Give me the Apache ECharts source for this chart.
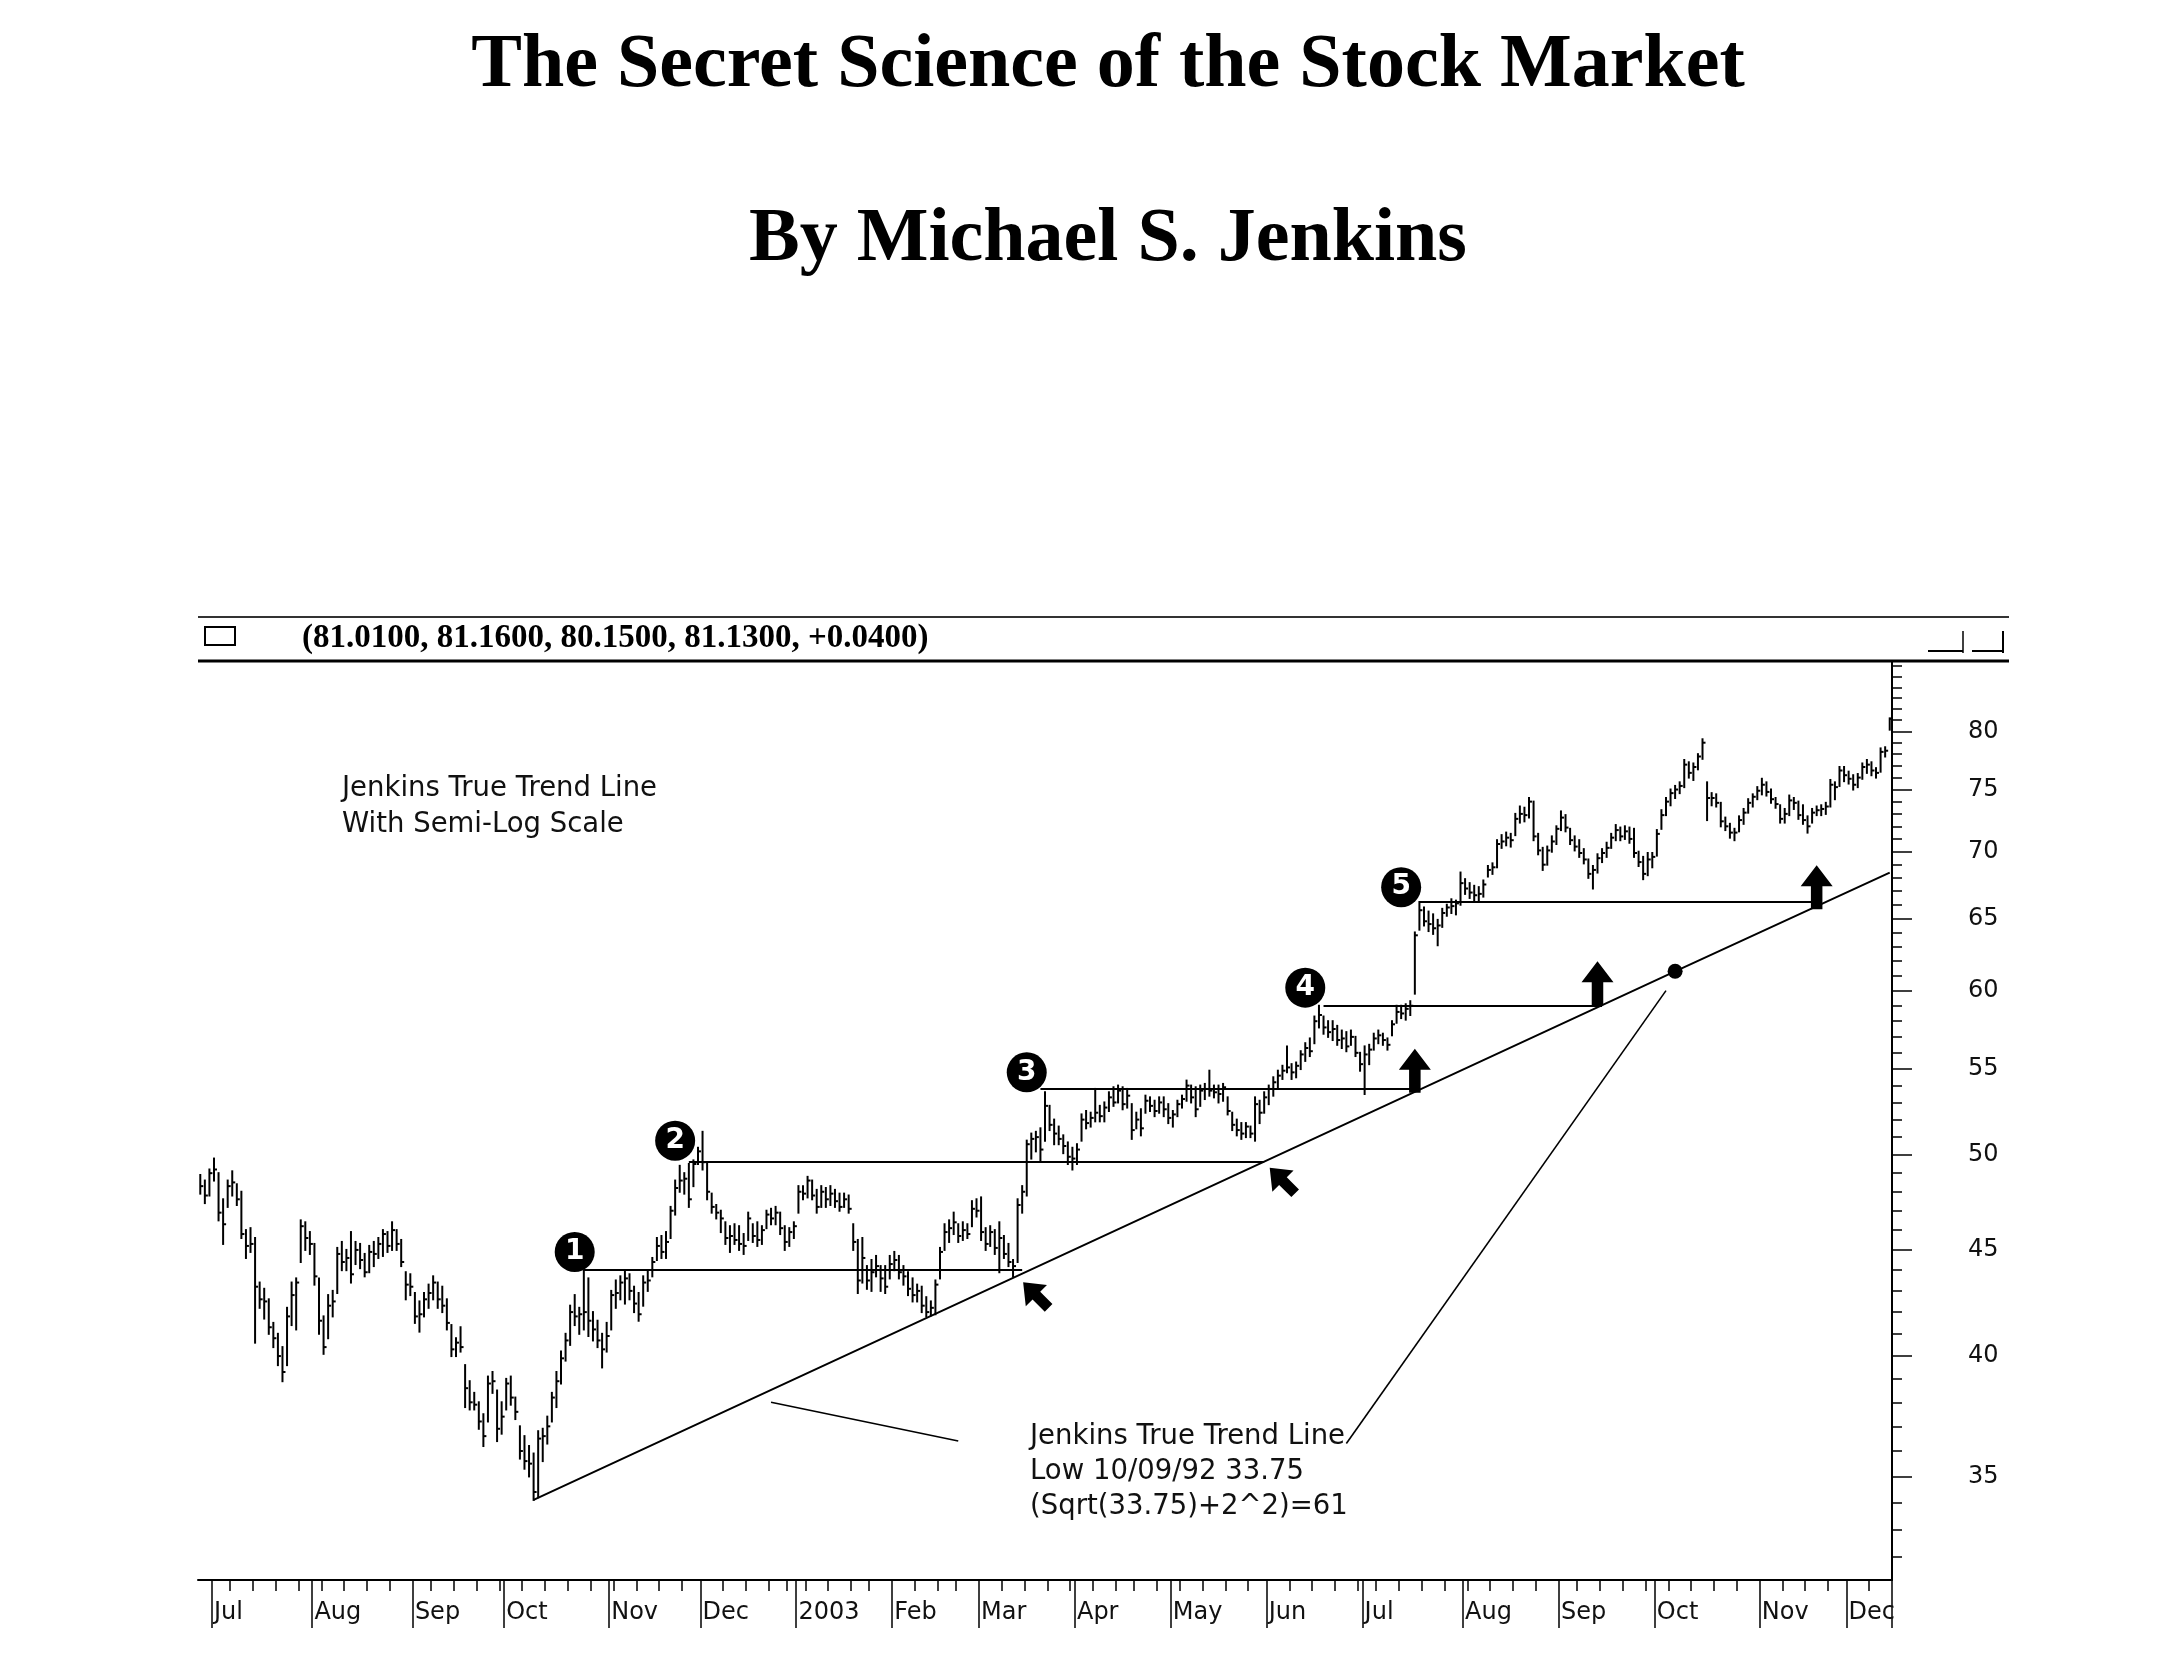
<!DOCTYPE html>
<html><head><meta charset="utf-8">
<script src="https://cdn.jsdelivr.net/npm/echarts@6/dist/echarts.min.js"></script>
<style>html,body{margin:0;padding:0;background:#fff}#c{width:2173px;height:1665px}</style>
</head><body><div id="c"></div>
<script>
// ---------- data ----------
const startDate = '2002-06-26';
const endDate = '2003-12-12';
const holidays = ['2002-07-04','2002-09-02','2002-11-28','2002-12-25','2003-01-01','2003-01-20',
  '2003-02-17','2003-04-18','2003-05-26','2003-07-04','2003-09-01','2003-11-27'];
const monthLabels = ['Jul','Aug','Sep','Oct','Nov','Dec','2003','Feb','Mar','Apr','May','Jun',
  'Jul','Aug','Sep','Oct','Nov','Dec'];

const highs = [
48.9,48.6,49.2,49.8,49.0,47.6,48.6,49.1,48.4,48.0,
46.0,46.1,45.6,43.4,43.1,42.6,41.5,41.0,40.4,42.2,
43.4,43.6,46.5,46.4,45.9,45.3,43.6,41.8,42.8,43.0,
45.1,45.4,45.0,45.9,45.4,45.3,44.8,45.2,45.4,45.6,
46.0,45.9,46.4,46.0,45.5,43.9,43.8,42.9,42.5,42.9,
43.3,43.7,43.4,43.2,42.6,41.4,40.8,41.3,39.6,38.9,
38.4,38.0,37.5,39.1,39.3,38.5,38.0,39.0,39.1,38.2,
37.0,36.6,36.2,35.9,36.8,36.9,37.4,38.4,39.3,40.2,
41.0,42.3,42.8,42.2,44.0,43.6,42.0,41.6,41.0,41.5,
43.0,43.5,43.7,44.0,43.8,43.2,42.9,43.7,44.0,44.6,
45.6,45.7,45.9,47.2,48.6,49.4,49.0,49.5,49.7,50.4,
51.3,49.6,47.9,47.3,47.0,46.4,46.2,46.3,46.2,45.8,
46.9,46.3,46.4,46.2,47.0,47.1,47.2,46.9,46.2,46.1,
46.4,48.3,48.3,48.8,48.6,48.1,48.3,48.2,48.3,48.1,
47.9,47.9,47.8,46.3,45.5,45.6,44.2,44.5,44.7,44.2,
44.2,44.7,44.9,44.7,44.2,43.9,43.6,43.3,43.2,42.7,
42.5,43.5,45.1,46.3,46.5,46.9,46.3,46.4,46.3,47.5,
47.6,47.7,46.1,46.2,46.0,46.4,45.7,45.3,44.5,47.6,
48.3,50.8,51.2,51.3,51.5,53.6,52.8,52.0,51.6,51.1,
50.7,50.4,50.6,52.3,52.5,52.4,53.8,52.8,53.0,53.6,
53.9,54.0,53.9,53.8,52.9,52.4,52.6,53.4,53.3,53.1,
53.3,53.3,52.9,52.5,53.1,53.4,54.3,54.0,53.9,54.0,
54.1,54.9,54.0,54.0,54.1,53.3,52.4,52.0,51.8,51.8,
51.6,53.3,53.1,53.6,54.0,54.5,54.9,55.2,56.4,55.3,
55.4,56.1,56.6,56.9,58.3,59.0,58.3,58.0,58.0,57.7,
57.4,57.3,57.4,57.0,56.0,56.4,56.5,57.2,57.4,57.2,
56.9,58.0,59.0,59.0,59.1,59.3,64.0,66.2,65.8,65.5,
65.3,64.9,65.7,66.0,66.4,66.3,68.4,67.9,67.6,67.4,
67.3,67.8,68.9,69.1,70.9,71.3,71.5,71.4,73.0,73.6,
73.5,74.3,74.0,71.4,70.3,70.4,71.2,72.0,73.2,72.9,
71.8,71.2,70.9,70.2,69.4,68.9,69.8,70.2,70.7,71.4,
72.1,71.9,72.0,71.9,71.8,70.0,69.6,69.9,69.9,71.7,
73.3,74.3,75.0,75.3,75.6,77.5,77.3,77.2,78.0,79.3,
75.6,74.7,74.6,73.9,72.7,72.2,71.8,72.8,73.4,74.2,
74.6,75.2,75.9,75.6,75.0,74.3,73.7,73.4,74.5,74.3,
74.0,73.7,72.8,73.4,73.6,73.7,73.9,75.8,75.6,76.9,
76.9,76.5,76.2,76.3,77.2,77.5,77.3,76.8,78.5,78.6,
81.16];

const lows = [
47.9,47.4,47.8,48.6,46.5,45.3,47.2,47.8,47.3,45.6,
44.6,44.9,40.6,42.2,41.7,41.0,40.4,39.6,38.9,39.6,
41.4,41.2,44.4,45.0,44.8,43.3,41.0,40.1,40.8,41.8,
42.9,44.0,44.0,43.4,44.3,44.1,43.7,43.9,44.2,44.6,
44.7,44.9,45.0,45.0,44.2,42.6,42.8,41.5,41.1,41.8,
42.2,42.6,42.2,42.0,41.2,40.0,40.0,40.2,37.8,37.7,
37.7,36.9,36.2,37.2,38.4,36.4,36.7,37.7,37.9,37.3,
35.7,35.3,35.0,34.1,34.2,35.6,36.3,37.2,37.8,38.8,
39.8,40.5,41.4,41.0,41.2,40.9,40.7,40.4,39.5,40.2,
41.2,42.2,42.6,42.4,42.6,42.0,41.6,42.3,43.0,43.7,
44.5,44.6,44.6,45.6,46.8,48.0,47.9,47.2,48.3,49.5,
49.2,47.6,46.9,46.6,45.9,45.3,44.9,45.3,45.0,44.8,
45.5,45.4,45.2,45.3,46.1,46.3,46.3,45.8,45.0,45.2,
45.6,46.9,47.6,47.7,47.6,46.9,47.2,47.2,47.3,47.2,
47.0,47.2,46.9,45.0,42.9,43.4,43.1,43.0,43.7,43.0,
42.9,43.6,44.0,43.6,43.3,42.8,42.5,42.5,42.0,41.8,
41.85,41.9,43.6,45.0,45.4,45.8,45.4,45.5,45.6,46.2,
46.7,45.5,45.0,45.2,44.8,43.9,44.6,44.2,43.7,44.4,
46.9,47.8,49.8,50.2,49.7,50.8,51.4,50.6,50.6,50.1,
49.5,49.2,49.5,50.8,51.5,51.6,51.9,51.9,51.9,52.5,
52.8,53.0,52.6,52.7,50.9,51.5,51.1,52.4,52.5,52.2,
52.4,52.2,51.8,51.6,52.2,52.7,53.1,53.0,52.2,52.8,
53.2,53.4,53.3,53.0,53.1,52.3,51.4,51.1,50.9,51.0,
51.0,50.8,51.8,52.4,52.9,53.4,53.8,54.4,54.8,54.4,
54.5,55.0,55.5,55.8,56.6,57.6,57.2,57.0,56.8,56.5,
56.3,56.1,56.5,55.8,54.9,53.5,55.3,56.2,56.6,56.5,
56.2,57.1,57.9,58.2,58.1,58.4,59.8,64.2,64.5,64.1,
63.9,63.1,64.4,65.2,65.4,65.3,66.0,66.8,66.5,66.3,
66.2,66.6,68.1,68.3,68.8,70.3,70.5,70.4,71.3,72.3,
72.4,72.7,70.9,69.8,68.6,69.0,70.0,70.6,71.7,71.6,
70.6,70.1,69.6,69.1,68.0,67.2,68.4,69.2,69.6,70.3,
70.9,70.9,71.0,70.7,69.6,68.9,67.9,68.2,68.8,69.7,
71.8,72.9,73.7,74.3,74.7,75.2,76.0,75.8,76.7,77.6,
72.5,73.7,73.6,72.0,71.7,71.1,70.9,71.6,72.2,73.1,
73.6,74.2,74.6,74.5,73.9,73.5,72.3,72.3,72.9,73.4,
72.6,72.2,71.5,72.3,72.9,72.9,73.0,73.6,74.2,75.3,
75.7,75.5,75.0,75.2,75.9,76.4,76.2,76.0,76.5,77.8,
80.15];

const closes = [
48.3,47.8,49.0,49.2,46.9,46.3,48.3,48.5,47.6,45.8,
45.2,45.3,43.2,42.6,42.5,41.3,40.8,40.0,39.3,41.8,
42.8,43.4,46.2,45.6,45.3,43.7,41.6,40.4,42.3,42.5,
44.8,44.4,44.6,43.8,45.0,44.5,43.9,44.9,44.8,45.3,
45.8,45.2,46.0,45.3,44.4,43.3,43.2,41.8,41.9,42.6,
42.9,43.4,42.6,42.3,41.5,40.3,40.6,40.4,38.6,38.0,
37.9,37.2,36.6,38.8,38.9,36.9,37.4,38.8,38.2,37.6,
36.0,35.6,35.5,34.4,36.5,36.6,37.0,38.2,38.9,39.9,
40.7,42.0,41.8,41.9,42.0,41.6,41.2,40.7,40.3,40.9,
42.8,42.9,43.4,43.6,43.0,42.4,41.9,43.4,43.5,44.4,
45.2,44.9,45.4,47.0,48.2,48.6,48.7,47.6,49.5,50.2,
49.6,48.0,47.2,46.9,46.6,45.6,45.7,45.5,45.3,45.2,
46.6,45.7,45.5,46.0,46.8,46.6,46.9,46.1,45.4,45.9,
46.2,48.0,47.9,48.6,47.8,47.2,48.0,47.6,47.9,47.5,
47.2,47.6,47.1,45.4,43.5,44.6,43.5,43.9,44.2,43.6,
43.2,44.3,44.5,43.9,43.7,43.1,42.8,43.0,42.3,42.0,
42.2,43.3,44.9,45.9,46.1,46.4,45.7,46.0,45.8,47.1,
47.0,45.9,45.3,45.9,45.1,45.6,44.8,44.4,44.2,47.3,
48.0,50.6,50.9,51.0,50.3,52.8,51.7,51.2,50.9,50.5,
49.9,49.8,50.3,52.0,51.8,52.1,52.4,52.2,52.7,53.3,
53.0,53.7,52.9,53.4,51.4,52.0,51.5,53.1,52.8,52.5,
53.0,52.6,52.1,52.3,52.9,53.2,54.0,53.3,52.6,53.7,
53.8,53.7,53.6,53.5,53.9,52.5,51.7,51.4,51.2,51.6,
51.2,52.9,52.4,53.3,53.8,54.2,54.6,54.9,55.1,54.8,
55.2,55.9,56.3,56.1,58.0,58.4,57.6,57.3,57.5,56.8,
56.9,56.4,57.0,56.0,55.3,55.9,56.2,56.9,57.1,56.8,
56.5,57.8,58.6,58.5,58.8,59.0,63.8,65.6,64.8,64.6,
64.3,64.5,65.4,65.8,65.9,66.1,67.6,67.2,66.9,66.7,
66.8,67.5,68.6,68.8,70.6,70.8,71.1,70.9,72.6,73.0,
72.9,74.0,71.2,70.1,69.0,70.1,70.8,71.8,72.7,71.9,
70.9,70.4,69.9,69.4,68.3,68.6,69.5,69.9,70.3,71.1,
71.7,71.2,71.6,71.0,69.9,69.2,68.3,69.4,69.6,71.4,
72.9,74.0,74.7,75.0,75.3,77.1,76.4,76.9,77.8,79.0,
74.3,74.3,73.9,72.4,72.0,71.5,71.5,72.5,73.1,73.9,
74.4,74.9,75.4,74.8,74.2,73.8,72.6,73.0,74.1,73.9,
72.9,72.5,72.0,73.1,73.3,73.4,73.6,75.4,75.2,76.6,
76.2,75.9,75.4,76.0,76.9,77.1,76.6,76.4,78.2,78.3,
81.13];

const priceTicks = [35,40,45,50,55,60,65,70,75,80];
const minorTicks = [32,33,34,36,37,38,39,41,42,43,44,46,47,48,49,51,52,53,54,56,57,58,59,
  61,62,63,64,66,67,68,69,71,72,73,74,76,77,78,79,81,82,83,84,85,86];

// annotations (bar index, price)
const trendLine = [[73, 34.1], [323, 61.3], [370, 68.4]];
const levelValues = [44.0, 49.6, 53.8, 59.0, 66.2];
const levelStart = [84, 107, 184, 246, 267];
const levelEnd = [180, 233, 266, 307, 353];
const circleLabels = ['1','2','3','4','5'];
const circleX = [82, 104, 181, 242, 263];
const circleY = [44.9, 50.8, 54.8, 60.2, 67.3];
const upArrowX = [266, 306, 354];
const upArrowY = [54.9, 60.5, 67.3];
const diagArrowX = [183, 237];
const diagArrowY = [42.8, 48.6];
const targetDot = [323, 61.3];
const leaderLines = [[[251, 36.3], [321, 60.0]], [[125, 38.0], [166, 36.4]]];
const headerText = '(81.0100, 81.1600, 80.1500, 81.1300, +0.0400)';

// ---------- build ----------
function buildTradingDays(start, end, skip) {
  const out = [];
  const d = new Date(start + 'T00:00:00Z');
  const e = new Date(end + 'T00:00:00Z');
  const skipSet = new Set(skip);
  while (d <= e) {
    const wd = d.getUTCDay();
    const s = d.toISOString().slice(0, 10);
    if (wd !== 0 && wd !== 6 && !skipSet.has(s)) out.push(s);
    d.setUTCDate(d.getUTCDate() + 1);
  }
  return out;
}
const dates = buildTradingDays(startDate, endDate, holidays);
const monthStart = {};
const weekStart = {};
let mCount = 0;
for (let i = 1; i < dates.length; i++) {
  if (dates[i].slice(5, 7) !== dates[i - 1].slice(5, 7)) { monthStart[i] = monthLabels[mCount++]; }
  const a = new Date(dates[i] + 'T00:00:00Z').getUTCDay();
  const b = new Date(dates[i - 1] + 'T00:00:00Z').getUTCDay();
  if (a <= b) weekStart[i] = true;
}
const barData = dates.map((d, i) => [i, highs[i], lows[i], closes[i]]);

const FONT = 'DejaVu Sans';
const chart = echarts.init(document.getElementById('c'), null, {renderer: 'canvas'});
chart.setOption({
  animation: false,
  backgroundColor: '#fff',
  grid: {left: 198, right: 281, top: 662, bottom: 85, containLabel: false, outerBoundsMode: 'none'},
  xAxis: [{
    type: 'category', data: dates, boundaryGap: true, position: 'bottom',
    axisLine: {show: true, onZero: false, lineStyle: {color: '#000', width: 2}},
    axisTick: {show: true, interval: (i) => !!weekStart[i], length: 11, lineStyle: {color: '#000', width: 1.5}},
    axisLabel: {show: false}, splitLine: {show: false}
  }, {
    type: 'category', data: dates, boundaryGap: true, position: 'bottom',
    axisLine: {show: false, onZero: false},
    axisTick: {show: true, interval: (i) => monthStart[i] !== undefined, length: 48, lineStyle: {color: '#000', width: 1.5}},
    axisLabel: {show: true, interval: (i) => monthStart[i] !== undefined,
      formatter: (v, i) => monthStart[i] || '', align: 'left', margin: 21,
      fontFamily: FONT, fontSize: 24, color: '#111'},
    splitLine: {show: false}
  }],
  yAxis: [{
    type: 'log', logBase: 10, min: 31.2, max: 86.4, position: 'right',
    axisLine: {show: true, lineStyle: {color: '#000', width: 2}},
    axisTick: {show: true, customValues: priceTicks, length: 20, lineStyle: {color: '#000', width: 1.5}},
    axisLabel: {show: true, customValues: priceTicks, margin: 76, fontFamily: FONT, fontSize: 24, color: '#111', align: 'left'},
    splitLine: {show: false}
  }, {
    type: 'log', logBase: 10, min: 31.2, max: 86.4, position: 'right',
    axisLine: {show: false},
    axisTick: {show: true, customValues: minorTicks, length: 10, lineStyle: {color: '#000', width: 1.5}},
    axisLabel: {show: false}, splitLine: {show: false}
  }],
  series: [{
    type: 'custom', name: 'bars', xAxisIndex: 0, yAxisIndex: 0, data: barData,
    encode: {x: 0, y: [1, 2, 3]}, z: 2,
    renderItem: function (params, api) {
      const x = api.value(0);
      const pH = api.coord([x, api.value(1)]);
      const pL = api.coord([x, api.value(2)]);
      const pC = api.coord([x, api.value(3)]);
      return {type: 'group', children: [
        {type: 'line', shape: {x1: pH[0], y1: pH[1] - 1, x2: pL[0], y2: pL[1] + 1}, style: {stroke: '#000', lineWidth: 2}},
        {type: 'line', shape: {x1: pC[0], y1: pC[1], x2: pC[0] + 3, y2: pC[1]}, style: {stroke: '#000', lineWidth: 2}}
      ]};
    }
  }, {
    type: 'line', name: 'trend', xAxisIndex: 0, yAxisIndex: 0, data: trendLine,
    symbol: 'none', lineStyle: {color: '#000', width: 2}, z: 3
  }, {
    type: 'lines', coordinateSystem: 'cartesian2d', xAxisIndex: 0, yAxisIndex: 0, z: 3,
    lineStyle: {color: '#000', width: 2, opacity: 1, curveness: 0},
    data: levelValues.map((v, k) => ({coords: [[levelStart[k], v], [levelEnd[k], v]]}))
  }, {
    type: 'lines', coordinateSystem: 'cartesian2d', xAxisIndex: 0, yAxisIndex: 0, z: 3,
    lineStyle: {color: '#000', width: 1.6, opacity: 1, curveness: 0},
    data: leaderLines.map(c => ({coords: c}))
  }, {
    type: 'scatter', xAxisIndex: 0, yAxisIndex: 0, z: 6, symbol: 'circle', symbolSize: 40,
    itemStyle: {color: '#000', opacity: 1},
    label: {show: true, position: 'inside', formatter: p => circleLabels[p.dataIndex],
      color: '#fff', fontWeight: 'bold', fontSize: 28, fontFamily: FONT},
    data: circleX.map((x, k) => [x, circleY[k]])
  }, {
    type: 'scatter', xAxisIndex: 0, yAxisIndex: 0, z: 6,
    symbol: 'path://M50,0 L100,48 L68,48 L68,100 L32,100 L32,48 L0,48 Z', symbolSize: [32, 44],
    itemStyle: {color: '#000', opacity: 1},
    data: upArrowX.map((x, k) => [x, upArrowY[k]])
  }, {
    type: 'scatter', xAxisIndex: 0, yAxisIndex: 0, z: 6,
    symbol: 'path://M50,0 L100,52 L68,52 L68,100 L32,100 L32,52 L0,52 Z', symbolSize: [30, 36], symbolRotate: 45,
    itemStyle: {color: '#000', opacity: 1},
    data: diagArrowX.map((x, k) => [x, diagArrowY[k]])
  }, {
    type: 'scatter', xAxisIndex: 0, yAxisIndex: 0, z: 6, symbol: 'circle', symbolSize: 15,
    itemStyle: {color: '#000', opacity: 1}, data: [targetDot]
  }],
  graphic: [
    {type: 'text', x: 1108, y: 66, style: {text: 'The Secret Science of the Stock Market',
      fontFamily: 'Liberation Serif', fontWeight: 'bold', fontSize: 76, fill: '#000', align: 'center', verticalAlign: 'middle'}},
    {type: 'text', x: 1108, y: 240, style: {text: 'By Michael S. Jenkins',
      fontFamily: 'Liberation Serif', fontWeight: 'bold', fontSize: 76, fill: '#000', align: 'center', verticalAlign: 'middle'}},
    {type: 'line', shape: {x1: 198, y1: 617, x2: 2009, y2: 617}, style: {stroke: '#333', lineWidth: 2}},
    {type: 'line', shape: {x1: 198, y1: 661, x2: 2009, y2: 661}, style: {stroke: '#000', lineWidth: 3}},
    {type: 'rect', shape: {x: 205, y: 627, width: 30, height: 18}, style: {stroke: '#000', lineWidth: 2, fill: '#fff'}},
    {type: 'text', x: 302, y: 638, style: {text: headerText, fontFamily: 'Liberation Serif', fontWeight: 'bold',
      fontSize: 33, fill: '#000', align: 'left', verticalAlign: 'middle'}},
    {type: 'line', shape: {x1: 1928, y1: 651, x2: 1963, y2: 651}, style: {stroke: '#000', lineWidth: 2}},
    {type: 'line', shape: {x1: 1963, y1: 631, x2: 1963, y2: 653}, style: {stroke: '#000', lineWidth: 1.5}},
    {type: 'line', shape: {x1: 1972, y1: 651, x2: 2003, y2: 651}, style: {stroke: '#000', lineWidth: 2}},
    {type: 'line', shape: {x1: 2003, y1: 631, x2: 2003, y2: 653}, style: {stroke: '#000', lineWidth: 2}},
    {type: 'text', x: 342, y: 789, style: {text: 'Jenkins True Trend Line', fontFamily: FONT, fontSize: 27.5, fill: '#111', align: 'left', verticalAlign: 'middle'}},
    {type: 'text', x: 342, y: 825, style: {text: 'With Semi-Log Scale', fontFamily: FONT, fontSize: 27.5, fill: '#111', align: 'left', verticalAlign: 'middle'}},
    {type: 'text', x: 1030, y: 1437, style: {text: 'Jenkins True Trend Line', fontFamily: FONT, fontSize: 27.5, fill: '#111', align: 'left', verticalAlign: 'middle'}},
    {type: 'text', x: 1030, y: 1472, style: {text: 'Low 10/09/92 33.75', fontFamily: FONT, fontSize: 27.5, fill: '#111', align: 'left', verticalAlign: 'middle'}},
    {type: 'text', x: 1030, y: 1507, style: {text: '(Sqrt(33.75)+2^2)=61', fontFamily: FONT, fontSize: 27.5, fill: '#111', align: 'left', verticalAlign: 'middle'}}
  ]
});
</script>
</body></html>
